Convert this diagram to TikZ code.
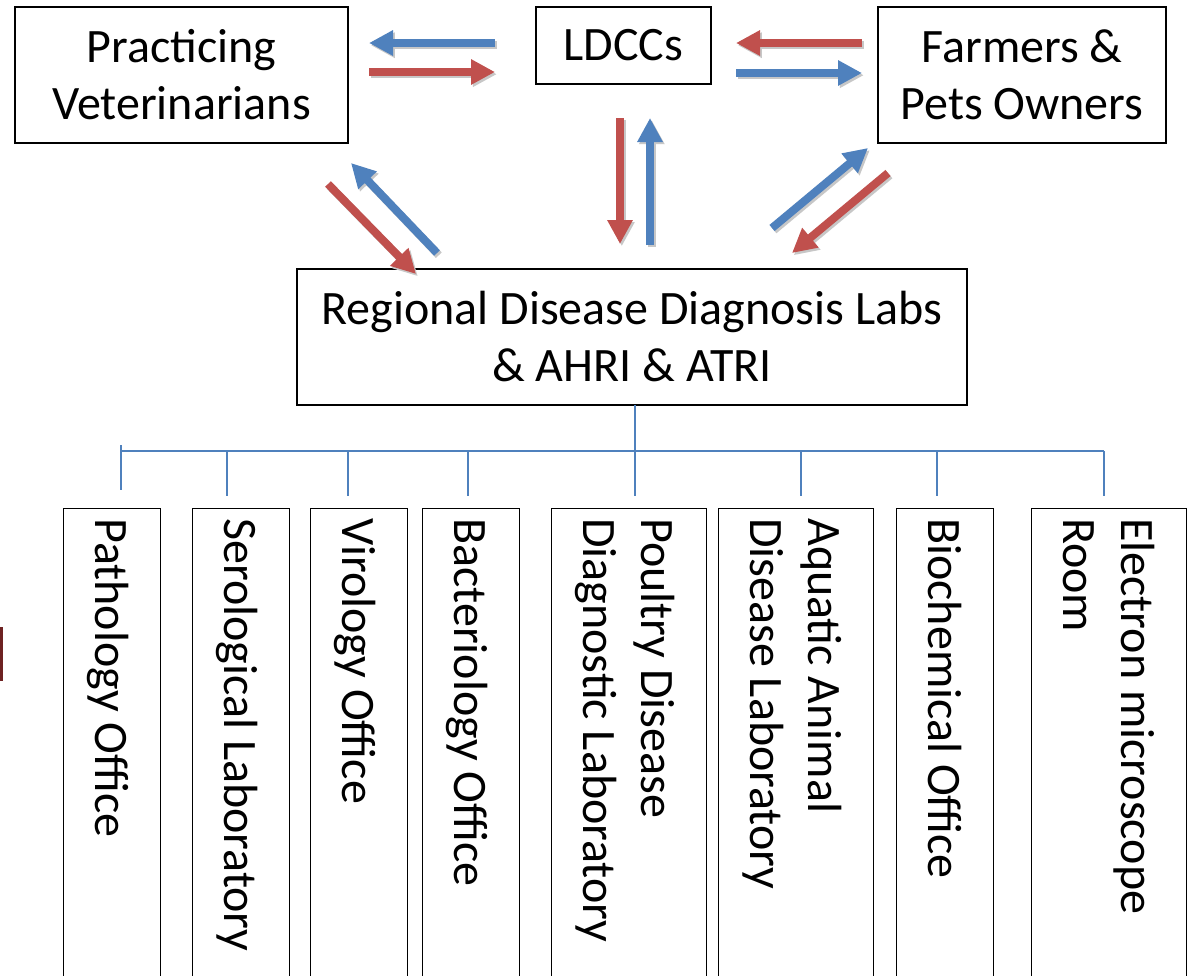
\documentclass[tikz,border=0pt]{standalone}
\usepackage{fontspec}
\setmainfont{Carlito}
\usetikzlibrary{arrows.meta}
\definecolor{oblue}{HTML}{4F81BD}
\definecolor{ored}{HTML}{C0504D}
\definecolor{edgemaroon}{HTML}{6E2222}
\begin{document}
\begin{tikzpicture}[x=1pt,y=-1pt,
  box/.style={draw=black, line width=1.4pt, rectangle, inner sep=0pt, align=center,
              font=\fontsize{48}{57}\selectfont},
  unitbox/.style={draw=black, line width=1.4pt, rectangle, inner sep=0pt, anchor=north west,
              minimum height=520pt},
  vtext/.style={rotate=-90, anchor=north west, inner sep=0pt, align=left,
              font=\fontsize{48}{58}\selectfont},
  flow/.style={line width=8pt, -{Triangle[length=24pt,width=24pt]}},
  bflow/.style={flow, draw=oblue},
  rflow/.style={flow, draw=ored},
  shadowflow/.style={flow, draw=black!22},
  tree/.style={draw=oblue, line width=1.6pt}]
\clip (0,0) rectangle (1188,975);
\fill[white] (0,0) rectangle (1188,975);

% top level
\node[box, minimum width=333pt, minimum height=136pt] (vet) at (181.5,75) {Practicing\\Veterinarians};
\node[box, minimum width=175pt, minimum height=77pt] (ldcc) at (623.5,45.5) {LDCCs};
\node[box, minimum width=288pt, minimum height=136pt] (farm) at (1022,75) {Farmers \&\\Pets Owners};
\node[box, minimum width=670pt, minimum height=136pt] (rdl) at (632,337) {Regional Disease Diagnosis Labs\\\& AHRI \& ATRI};

% arrow end points
\coordinate (vl1) at (495,43);  \coordinate (vl2) at (369,43);
\coordinate (vl3) at (369,72);  \coordinate (vl4) at (495,72);
\coordinate (fl1) at (862,43);  \coordinate (fl2) at (736,43);
\coordinate (fl3) at (736,73);  \coordinate (fl4) at (862,73);
\coordinate (cd1) at (620,118); \coordinate (cd2) at (620,244);
\coordinate (cu1) at (650,245); \coordinate (cu2) at (650,118);
\coordinate (ld1) at (328,184); \coordinate (ld2) at (416,274);
\coordinate (lu1) at (437,253); \coordinate (lu2) at (351,163);
\coordinate (ru1) at (772,228); \coordinate (ru2) at (868,148);
\coordinate (rd1) at (888,173); \coordinate (rd2) at (792,253);

% shadows
\foreach \a/\b in {vl1/vl2,vl3/vl4,fl1/fl2,fl3/fl4,cd1/cd2,cu1/cu2,ld1/ld2,lu1/lu2,ru1/ru2,rd1/rd2}
  \draw[shadowflow] ([shift={(1.8,2.2)}]\a) -- ([shift={(1.8,2.2)}]\b);

% arrows
\draw[bflow] (vl1) -- (vl2);
\draw[rflow] (vl3) -- (vl4);
\draw[rflow] (fl1) -- (fl2);
\draw[bflow] (fl3) -- (fl4);
\draw[rflow] (cd1) -- (cd2);
\draw[bflow] (cu1) -- (cu2);
\draw[rflow] (ld1) -- (ld2);
\draw[bflow] (lu1) -- (lu2);
\draw[bflow] (ru1) -- (ru2);
\draw[rflow] (rd1) -- (rd2);

% bottom units
\node[unitbox, minimum width=97pt]  (u1) at (63,508) {};
\node[unitbox, minimum width=97pt]  (u2) at (192,508) {};
\node[unitbox, minimum width=97pt]  (u3) at (310,508) {};
\node[unitbox, minimum width=97pt]  (u4) at (422,508) {};
\node[unitbox, minimum width=155pt] (u5) at (551,508) {};
\node[unitbox, minimum width=155pt] (u6) at (718,508) {};
\node[unitbox, minimum width=97pt]  (u7) at (896,508) {};
\node[unitbox, minimum width=155pt] (u8) at (1031,508) {};

\node[vtext] (t1) at ([xshift=-31pt,yshift=-10pt]u1.north east) {\rule{0pt}{35pt}Pathology Office};
\node[vtext] (t2) at ([xshift=-31pt,yshift=-10pt]u2.north east) {\rule{0pt}{35pt}Serological Laboratory};
\node[vtext] (t3) at ([xshift=-31pt,yshift=-10pt]u3.north east) {\rule{0pt}{35pt}Virology Office};
\node[vtext] (t4) at ([xshift=-31pt,yshift=-10pt]u4.north east) {\rule{0pt}{35pt}Bacteriology Office};
\node[vtext] (t5) at ([xshift=-31pt,yshift=-10pt]u5.north east) {\rule{0pt}{35pt}Poultry Disease\\Diagnostic Laboratory};
\node[vtext] (t6) at ([xshift=-31pt,yshift=-10pt]u6.north east) {\rule{0pt}{35pt}Aquatic Animal\\Disease Laboratory};
\node[vtext] (t7) at ([xshift=-31pt,yshift=-10pt]u7.north east) {\rule{0pt}{35pt}Biochemical Office};
\node[vtext] (t8) at ([xshift=-31pt,yshift=-10pt]u8.north east) {\rule{0pt}{35pt}Electron microscope\\Room};

% tree connectors
\coordinate (ctop) at (635,405);
\coordinate (cbus) at (635,451);
\coordinate (busL) at (121,451);
\coordinate (busR) at (1104,451);
\coordinate (tickT) at (121,445);
\coordinate (tickB) at (121,490);
\draw[tree] (ctop) -- (cbus);
\draw[tree] (busL) -- (busR);
\draw[tree] (tickT) -- (tickB);
\foreach \x/\n in {227/2,348/3,468/4,635/5,801/6,937/7,1104/8}{
  \coordinate (dt\n) at (\x,451);
  \coordinate (db\n) at (\x,496);
  \draw[tree] (dt\n) -- (db\n);
}

% fragment at left edge
\fill[edgemaroon] (0,627) rectangle (2.5,681);
\end{tikzpicture}
\end{document}
